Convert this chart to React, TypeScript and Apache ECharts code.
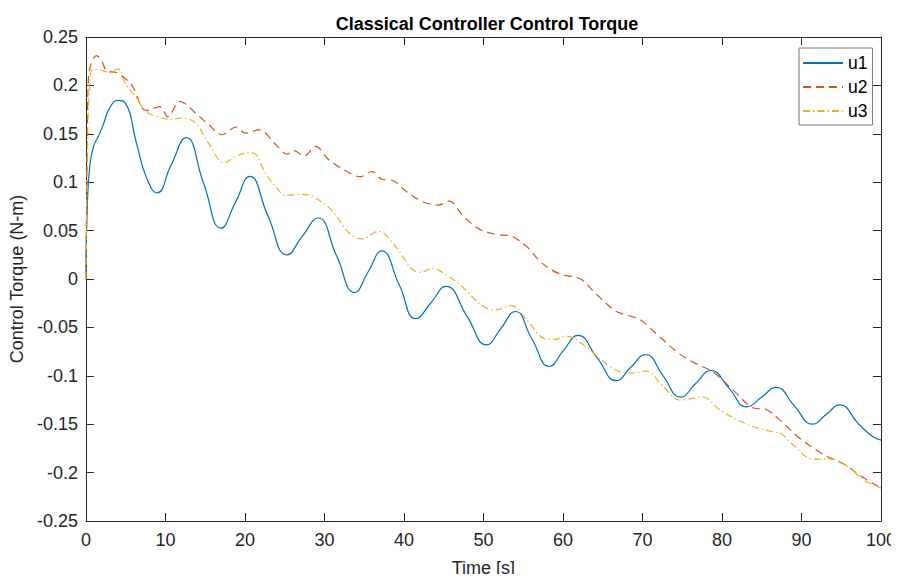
import React, { useEffect, useRef } from "react";
import * as echarts from "echarts";

const xTicks = [0, 10, 20, 30, 40, 50, 60, 70, 80, 90, 100];
const yTicks = [-0.25, -0.2, -0.15, -0.1, -0.05, 0, 0.05, 0.1, 0.15, 0.2, 0.25];

const u1Time = [0, 0.15, 0.5, 1.0, 1.6, 2.2, 3.0, 4.05, 4.9, 6.4, 7.6, 8.95, 10.7, 12.6, 14.8, 17.0, 18.8, 20.6, 22.9, 25.3, 27.2, 29.2, 31.5, 33.8, 35.5, 37.2, 39.4, 41.5, 43.4, 45.3, 47.9, 50.4, 52.2, 54.0, 56.1, 58.3, 60.0, 61.9, 64.3, 66.7, 68.5, 70.4, 72.6, 74.8, 76.7, 78.6, 80.9, 83.1, 85.0, 86.8, 89.1, 91.4, 93.1, 94.8, 97.2, 99.0, 100];
const u1Values = [0.003, 0.07, 0.118, 0.138, 0.148, 0.16, 0.177, 0.1845, 0.1825, 0.139, 0.105, 0.089, 0.1175, 0.146, 0.099, 0.0525, 0.079, 0.106, 0.065, 0.025, 0.044, 0.063, 0.0245, -0.014, 0.0075, 0.029, -0.006, -0.041, -0.0245, -0.0076, -0.038, -0.068, -0.051, -0.0336, -0.062, -0.0904, -0.0745, -0.0583, -0.0815, -0.105, -0.0915, -0.078, -0.1, -0.122, -0.108, -0.0945, -0.113, -0.132, -0.122, -0.112, -0.131, -0.15, -0.14, -0.13, -0.15, -0.163, -0.1665];

const u2Time = [0, 0.15, 0.3, 0.7, 1.35, 2.0, 2.6, 3.85, 5.7, 7.6, 9.3, 10.3, 11.8, 14.1, 15.5, 17.1, 18.9, 20.0, 21.8, 23.9, 25.3, 26.2, 27.4, 28.9, 30.5, 32.6, 34.5, 36.0, 37.2, 38.5, 40.3, 42.3, 44.3, 45.7, 47.5, 49.6, 51.7, 53.4, 55.5, 57.2, 59.5, 62.2, 64.0, 66.4, 67.6, 69.7, 71.8, 74.7, 76.8, 78.9, 81.4, 83.9, 85.6, 87.2, 89.7, 92.3, 93.9, 95.6, 97.3, 100];
const u2Values = [0, 0.12, 0.205, 0.224, 0.2307, 0.225, 0.215, 0.213, 0.201, 0.174, 0.178, 0.1675, 0.1834, 0.169, 0.159, 0.149, 0.157, 0.1506, 0.154, 0.1387, 0.129, 0.1327, 0.127, 0.137, 0.1235, 0.112, 0.1057, 0.111, 0.103, 0.102, 0.0905, 0.08, 0.0763, 0.0805, 0.0644, 0.051, 0.0458, 0.0445, 0.033, 0.0175, 0.0055, 0, -0.014, -0.032, -0.0363, -0.042, -0.057, -0.0776, -0.0877, -0.0962, -0.1148, -0.133, -0.135, -0.145, -0.164, -0.179, -0.186, -0.1925, -0.2026, -0.216];

const u3Time = [0, 0.2, 0.5, 0.9, 2.2, 3.1, 4.0, 5.1, 6.3, 7.4, 8.9, 10.5, 12.2, 13.8, 15.3, 17.4, 18.9, 20.5, 21.4, 22.4, 23.9, 25.1, 27.2, 28.5, 30.9, 33.1, 34.7, 36.8, 38.9, 41.0, 42.2, 43.5, 45.5, 47.6, 49.7, 51.4, 53.5, 55.6, 57.6, 58.9, 60.5, 62.5, 64.7, 66.8, 68.9, 70.5, 72.6, 74.7, 77.6, 79.7, 83.1, 86.4, 87.2, 88.9, 91.4, 93.9, 95.6, 98.1, 100];
const u3Values = [0, 0.14, 0.205, 0.2165, 0.215, 0.213, 0.217, 0.1996, 0.188, 0.174, 0.168, 0.165, 0.1662, 0.161, 0.142, 0.12, 0.127, 0.1303, 0.1286, 0.112, 0.095, 0.0864, 0.0874, 0.0854, 0.071, 0.0475, 0.0414, 0.0492, 0.034, 0.0103, 0.0069, 0.011, 0.0035, -0.01, -0.0269, -0.032, -0.0276, -0.0438, -0.0614, -0.0624, -0.059, -0.0675, -0.0827, -0.0945, -0.097, -0.095, -0.111, -0.125, -0.122, -0.135, -0.15, -0.158, -0.1587, -0.171, -0.186, -0.186, -0.1925, -0.209, -0.216];

const pairs = (t: number[], v: number[]) => t.map((x, i) => [x, v[i]]);

const FONT = "'Liberation Sans', Arial, Helvetica, sans-serif";
const AX = "#262626";

export default function App() {
  const ref = useRef<HTMLDivElement>(null);
  useEffect(() => {
    if (!ref.current) return;
    const chart = echarts.init(ref.current, undefined, { renderer: "svg" });
    const axisCommon = {
      min: 0,
      max: 100,
      interval: 10,
      axisLine: { show: true, onZero: false, lineStyle: { color: AX, width: 1 } },
      axisTick: { show: true, inside: true, length: 8, lineStyle: { color: AX } },
      splitLine: { show: false },
    };
    const yCommon = {
      min: -0.25,
      max: 0.25,
      interval: 0.05,
      axisLine: { show: true, onZero: false, lineStyle: { color: AX, width: 1 } },
      axisTick: { show: true, inside: true, length: 8, lineStyle: { color: AX } },
      splitLine: { show: false },
    };
    chart.setOption({
      animation: false,
      backgroundColor: "#fff",
      textStyle: { fontFamily: FONT },
      title: {
        text: "Classical Controller Control Torque",
        left: 482,
        top: 10,
        textAlign: "center",
        textStyle: { fontFamily: FONT, fontSize: 18, fontWeight: "bold", color: "#000" },
      },
      grid: { left: 83, top: 37, width: 799, height: 493, containLabel: false },
      legend: {
        orient: "vertical",
        left: 799,
        top: 48,
        itemWidth: 40,
        itemHeight: 14,
        itemGap: 6,
        padding: [6, 5, 5, 3],
        borderColor: "#777",
        borderWidth: 1,
        backgroundColor: "#fff",
        itemStyle: { opacity: 0 },
        textStyle: { fontFamily: FONT, fontSize: 17.5, color: "#000", lineHeight: 17 },
        data: ["u1", "u2", "u3"],
      },
      xAxis: [
        {
          ...axisCommon,
          type: "value",
          position: "bottom",
          name: "Time [s]",
          nameLocation: "middle",
          nameGap: 38,
          nameTextStyle: { fontFamily: FONT, fontSize: 18, color: AX },
          axisLabel: {
            margin: 10,
            fontFamily: FONT,
            fontSize: 18,
            color: AX,
            formatter: (v: number) => (xTicks.includes(v) ? String(v) : ""),
          },
        },
        {
          ...axisCommon,
          type: "value",
          position: "top",
          axisLabel: { show: false },
        },
      ],
      yAxis: [
        {
          ...yCommon,
          type: "value",
          position: "left",
          name: "Control Torque (N-m)",
          nameLocation: "middle",
          nameGap: 55,
          nameTextStyle: { fontFamily: FONT, fontSize: 18, color: AX },
          axisLabel: {
            margin: 8,
            fontFamily: FONT,
            fontSize: 18,
            color: AX,
            formatter: (v: number) => {
              const r = Math.round(v * 100) / 100;
              const t = yTicks.find((y) => Math.abs(y - r) < 1e-9);
              return t === undefined ? "" : String(Object.is(t, -0) ? 0 : t);
            },
          },
        },
        {
          ...yCommon,
          type: "value",
          position: "right",
          axisLabel: { show: false },
        },
      ],
      series: [
        {
          name: "u1",
          type: "line",
          xAxisIndex: 0,
          yAxisIndex: 0,
          data: pairs(u1Time, u1Values),
          smooth: 0.5,
          symbol: "none",
          lineStyle: { color: "#0072BD", width: 1.2 },
          itemStyle: { color: "#0072BD" },
        },
        {
          name: "u2",
          type: "line",
          xAxisIndex: 0,
          yAxisIndex: 0,
          data: pairs(u2Time, u2Values),
          smooth: 0.35,
          symbol: "none",
          lineStyle: { color: "#D95319", width: 1.2, type: [8, 5] },
          itemStyle: { color: "#D95319" },
        },
        {
          name: "u3",
          type: "line",
          xAxisIndex: 0,
          yAxisIndex: 0,
          data: pairs(u3Time, u3Values),
          smooth: 0.35,
          symbol: "none",
          lineStyle: { color: "#EDB120", width: 1.2, type: [7, 3, 1.5, 3] },
          itemStyle: { color: "#EDB120" },
        },
      ],
    });
    return () => chart.dispose();
  }, []);
  return <div ref={ref} style={{ width: 899, height: 582, margin: -8 }} />;
}
